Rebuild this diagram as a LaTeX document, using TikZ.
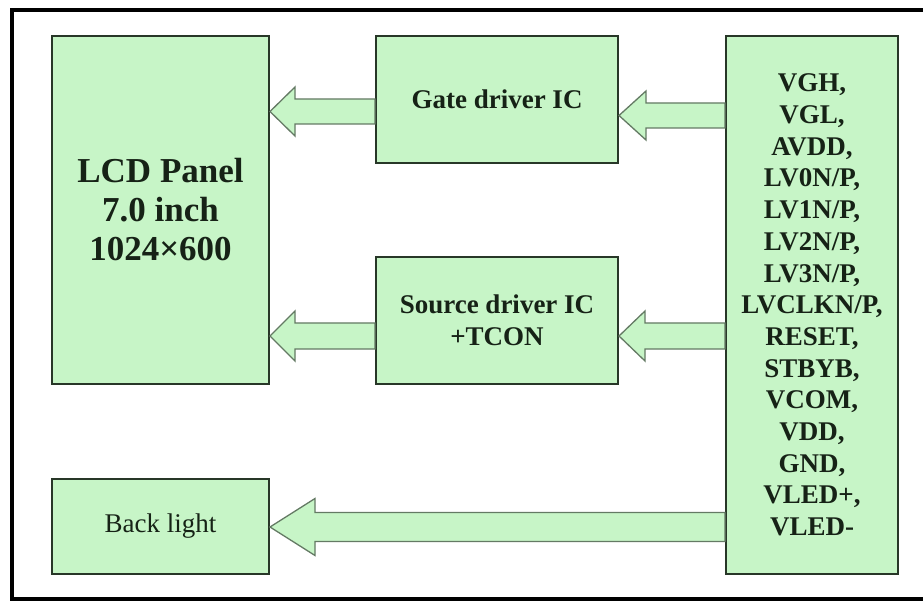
\documentclass[tikz,border=0pt]{standalone}
\usepackage{fontspec}
\setmainfont{Liberation Serif}
\usetikzlibrary{calc}
\definecolor{boxgreen}{RGB}{199,245,199}
\definecolor{boxline}{RGB}{40,55,40}
\definecolor{arrline}{RGB}{100,122,100}
\definecolor{txt}{RGB}{22,34,22}
\tikzset{
  blk/.style={draw=boxline, line width=2pt, fill=boxgreen, inner sep=0pt, align=center, text=txt},
  barrow/.style={draw=arrline, line width=1.3pt, fill=boxgreen, line join=miter},
  frameline/.style={draw=black, line width=3.5pt}
}
\newcommand{\blockarr}[5]{%
  \draw[barrow] (#1) -- ++(#3,-#4) -- ++(0,#4-#5) -- ($(#2)+(0,-#5)$) -- ($(#2)+(0,#5)$)
    -- ($(#1)+(#3,#5)$) -- ++(0,#4-#5) -- cycle;}
\begin{document}
\begin{tikzpicture}[x=1pt,y=-1pt]
\useasboundingbox (0,0) rectangle (923,601);
\fill[white] (0,0) rectangle (923,601);
% frame (open on the right, as in the reference)
\draw[frameline] (923,10) -- (12,10) -- (12,599) -- (923,599);
% boxes
\node[blk, minimum width=217pt, minimum height=348pt, font=\bfseries\fontsize{35}{39}\selectfont] (lcd) at (160.5,210) {LCD Panel\\7.0 inch\\1024×600};
\node[blk, minimum width=242pt, minimum height=127pt, font=\bfseries\fontsize{27}{31.5}\selectfont] (gate) at (497,99.5) {Gate driver IC};
\node[blk, minimum width=242pt, minimum height=127pt, font=\bfseries\fontsize{27}{31.5}\selectfont] (src) at (497,320.5) {Source driver IC\\+TCON};
\node[blk, minimum width=172pt, minimum height=538pt, font=\bfseries\fontsize{27}{31.7}\selectfont] (sig) at (812,305) {VGH,\\VGL,\\AVDD,\\LV0N/P,\\LV1N/P,\\LV2N/P,\\LV3N/P,\\LVCLKN/P,\\RESET,\\STBYB,\\VCOM,\\VDD,\\GND,\\VLED+,\\VLED-};
\node[blk, minimum width=217pt, minimum height=95pt, font=\fontsize{27}{31.5}\selectfont] (bl) at (160.5,526.5) {Back light};
% arrow end points
\coordinate (a1tip) at (lcd.east |- 0,111.5);
\coordinate (a1tail) at (gate.west |- 0,111.5);
\coordinate (a2tip) at (gate.east |- 0,115.5);
\coordinate (a2tail) at (sig.west |- 0,115.5);
\coordinate (a3tip) at (lcd.east |- 0,336);
\coordinate (a3tail) at (src.west |- 0,336);
\coordinate (a4tip) at (src.east |- 0,336);
\coordinate (a4tail) at (sig.west |- 0,336);
\coordinate (a5tip) at (bl.east |- 0,527);
\coordinate (a5tail) at (sig.west |- 0,527);
\blockarr{a1tip}{a1tail}{25}{24.5}{12.5}
\blockarr{a2tip}{a2tail}{27}{24.5}{12.5}
\blockarr{a3tip}{a3tail}{25}{25}{13}
\blockarr{a4tip}{a4tail}{26}{25}{13}
\blockarr{a5tip}{a5tail}{45}{28.5}{14.5}
\end{tikzpicture}
\end{document}
